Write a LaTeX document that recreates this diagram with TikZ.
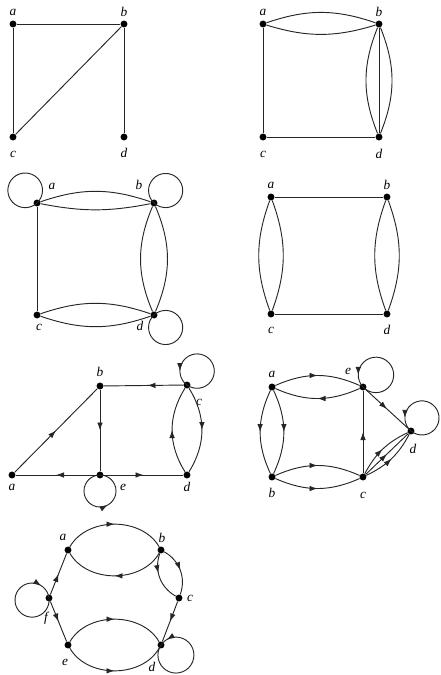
\documentclass[tikz,border=0pt]{standalone}
\usepackage{fontspec}
\setmainfont{Liberation Serif}
\usetikzlibrary{arrows.meta, decorations.markings}

\begin{document}
\begin{tikzpicture}[
x=0.75pt, y=-0.75pt,
vtx/.style={circle, fill=black, inner sep=0pt, minimum size=5.2pt},
lb/.style args={#1:#2}{label={[shift={#1}]center:#2}},
every label/.style={font=\itshape},
ln/.style={draw=black!85, line width=0.7pt},
midarrow/.style={postaction={decorate}, decoration={markings, mark=at position #1 with {\arrow{Latex[length=6pt,width=4.2pt]}}}},
midarrow/.default=0.5
]
\useasboundingbox (0,0) rectangle (440,675);

\node[vtx, lb={(0,-12):a}] (a1) at (13,24) {};
\node[vtx, lb={(0,-12):b}] (b1) at (124,24) {};
\node[vtx, lb={(0,17):c}] (c1) at (13,137) {};
\node[vtx, lb={(0,16):d}] (d1) at (124,137) {};

\draw[ln] (a1) -- (b1);
\draw[ln] (a1) -- (c1);
\draw[ln] (c1) -- (b1);
\draw[ln] (b1) -- (d1);

\node[vtx, lb={(0,-12):a}] (a2) at (263,24) {};
\node[vtx, lb={(0,-12):b}] (b2) at (379,24) {};
\node[vtx, lb={(0,17):c}] (c2) at (263,137) {};
\node[vtx, lb={(0,17):d}] (d2) at (379,137) {};

\draw[ln] (a2) to[bend left=19] (b2);
\draw[ln] (a2) to[bend right=17] (b2);
\draw[ln] (b2) -- (d2);
\draw[ln] (b2) to[bend left=22] (d2);
\draw[ln] (b2) to[bend right=22] (d2);
\draw[ln] (a2) -- (c2);
\draw[ln] (c2) -- (d2);

\node[vtx, lb={(15,-17):a}] (a3) at (37,203) {};
\node[vtx, lb={(-15,-18):b}] (b3) at (154,203) {};
\node[vtx, lb={(2,12):c}] (c3) at (37,315) {};
\node[vtx, lb={(-14,11):d}] (d3) at (154,315) {};

\draw[ln] (a3) to[bend left=19] (b3);
\draw[ln] (a3) to[bend right=11] (b3);
\draw[ln] (b3) to[bend left=23] (d3);
\draw[ln] (b3) to[bend right=23] (d3);
\draw[ln] (a3) -- (c3);
\draw[ln] (c3) to[bend left=19] (d3);
\draw[ln] (c3) to[bend right=19] (d3);
\draw[ln] (a3) arc[start angle=313, delta angle=360, radius=13pt];
\draw[ln] (b3) arc[start angle=227, delta angle=360, radius=12.8pt];
\draw[ln] (d3) arc[start angle=133, delta angle=360, radius=12.8pt];

\node[vtx, lb={(0,-12):a}] (a4) at (271,197) {};
\node[vtx, lb={(0,-12):b}] (b4) at (387,197) {};
\node[vtx, lb={(0,16):c}] (c4) at (271,314) {};
\node[vtx, lb={(0,16):d}] (d4) at (387,314) {};

\draw[ln] (a4) -- (b4);
\draw[ln] (c4) -- (d4);
\draw[ln] (a4) to[bend left=20] (c4);
\draw[ln] (a4) to[bend right=20] (c4);
\draw[ln] (b4) to[bend left=20] (d4);
\draw[ln] (b4) to[bend right=20] (d4);

\node[vtx, lb={(0,12):a}] (a5) at (12,475) {};
\node[vtx, lb={(0,-14):b}] (b5) at (100,386) {};
\node[vtx, lb={(12,17):c}] (c5) at (187,385) {};
\node[vtx, lb={(0,12):d}] (d5) at (187,475) {};
\node[vtx, lb={(23,12):e}] (e5) at (100,475) {};

\draw[ln, midarrow] (a5) -- (b5);
\draw[ln, midarrow] (b5) -- (e5);
\draw[ln, midarrow=0.45] (c5) -- (b5);
\draw[ln, midarrow] (e5) -- (a5);
\draw[ln, midarrow] (e5) -- (d5);
\draw[ln, midarrow] (d5) to[bend left=32] (c5);
\draw[ln, midarrow] (c5) to[bend left=32] (d5);
\draw[ln, midarrow=0.85] (c5) arc[start angle=234, delta angle=360, radius=12.9pt];
\draw[ln, midarrow=0.58] (e5) arc[start angle=90, delta angle=360, radius=12pt];

\node[vtx, lb={(0,-13):a}] (a6) at (272,387) {};
\node[vtx, lb={(-15,-16):e}] (e6) at (363,387) {};
\node[vtx, lb={(0,16):b}] (b6) at (272,477) {};
\node[vtx, lb={(0,18):c}] (c6) at (363,477) {};
\node[vtx, lb={(2,18):d}] (d6) at (411,431) {};

\draw[ln, midarrow] (a6) to[bend left=24] (e6);
\draw[ln, midarrow] (e6) to[bend left=24] (a6);
\draw[ln, midarrow] (a6) to[bend right=25] (b6);
\draw[ln, midarrow] (a6) to[bend left=25] (b6);
\draw[ln, midarrow] (b6) to[bend left=24] (c6);
\draw[ln, midarrow] (b6) to[bend right=24] (c6);
\draw[ln, midarrow] (c6) -- (e6);
\draw[ln, midarrow] (e6) -- (d6);
\draw[ln, midarrow] (c6) -- (d6);
\draw[ln, midarrow] (c6) to[bend left=18] (d6);
\draw[ln, midarrow] (c6) to[bend right=18] (d6);
\draw[ln, midarrow=0.88] (e6) arc[start angle=223, delta angle=360, radius=13.3pt];
\draw[ln, midarrow=0.86] (d6) arc[start angle=230, delta angle=360, radius=12.8pt];

\node[vtx, lb={(-5,-13):a}] (a7) at (68,550) {};
\node[vtx, lb={(1,-12):b}] (b7) at (161,550) {};
\node[vtx, lb={(11,0):c}] (c7) at (179,598) {};
\node[vtx, lb={(-9,22):d}] (d7) at (161,645) {};
\node[vtx, lb={(-3,17):e}] (e7) at (68,645) {};
\node[vtx, lb={(-3,20):f}] (f7) at (49,598) {};

\draw[ln, midarrow] (a7) to[bend left=60] (b7);
\draw[ln, midarrow] (b7) to[bend left=60] (a7);
\draw[ln, midarrow] (b7) to[bend left=40] (c7);
\draw[ln, midarrow=0.4] (b7) to[bend right=40] (c7);
\draw[ln, midarrow] (c7) -- (d7);
\draw[ln, midarrow] (f7) -- (a7);
\draw[ln, midarrow] (f7) -- (e7);
\draw[ln, midarrow] (e7) to[bend left=60] (d7);
\draw[ln, midarrow] (e7) to[bend right=60] (d7);
\draw[ln, midarrow=0.86] (f7) arc[start angle=7, delta angle=-360, radius=12.8pt];
\draw[ln, midarrow=0.93] (d7) arc[start angle=146, delta angle=360, radius=13.5pt];

\end{tikzpicture}
\end{document}
